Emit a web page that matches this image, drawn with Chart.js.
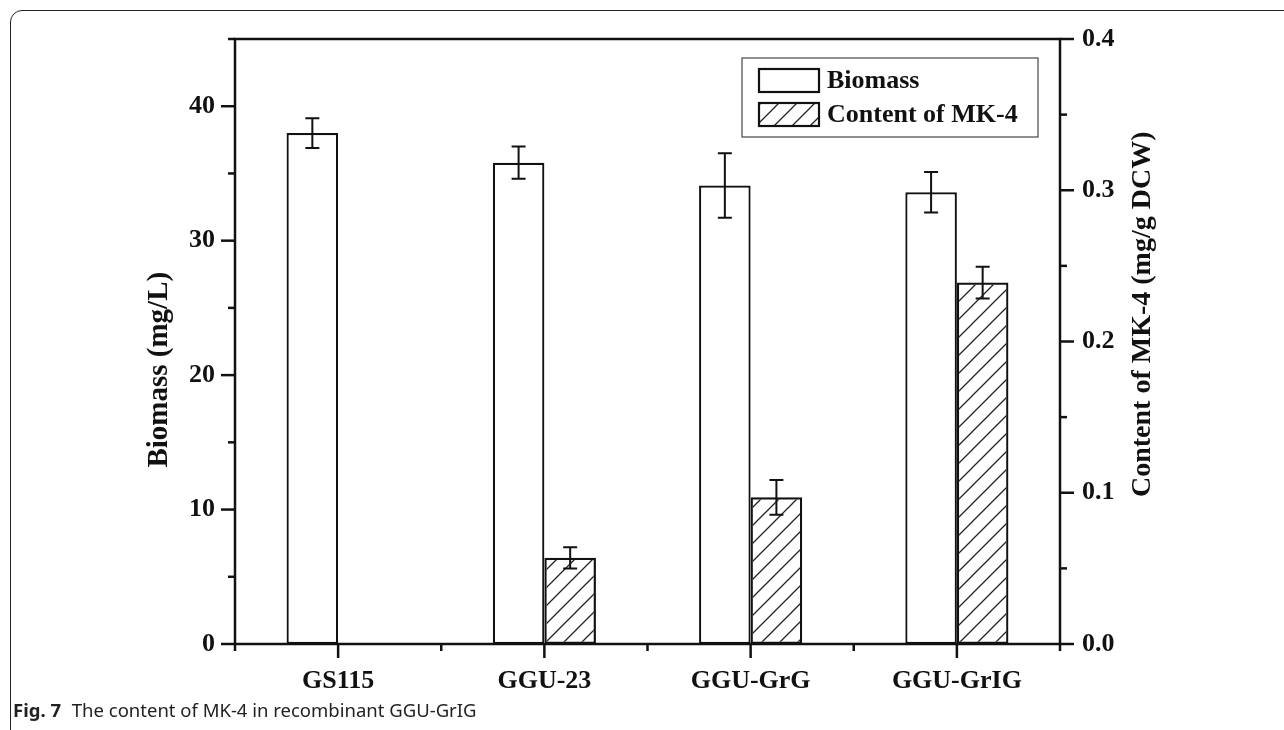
<!DOCTYPE html>
<html lang="en">
<head>
  <meta charset="UTF-8">
  <title>Fig. 7</title>
  <script src="https://cdn.jsdelivr.net/npm/chart.js"></script>
  <style>
    body { margin: 0; background: #fff; }
    .moldura {
      position: absolute; left: 10px; top: 10px; width: 1300px; height: 740px;
      border: 1.5px solid #222; border-radius: 12px;
    }
    .legenda_fig {
      position: absolute; left: 13px; top: 697px;
      font-family: "Noto Sans", sans-serif; font-size: 18.5px; color: #222;
    }
    .legenda_fig b { margin-right: 6px; }
    canvas { position: absolute; left: 0; top: 0; }
  </style>
</head>
<body>
  <div class="moldura"></div>
  <canvas id="grafico" width="1284" height="730"></canvas>
  <div class="legenda_fig"><b>Fig. 7</b> The content of MK-4 in recombinant GGU-GrIG</div>

  <script>
    var categorias = ['GS115', 'GGU-23', 'GGU-GrG', 'GGU-GrIG']
    var biomassa = [38.0, 35.8, 34.1, 33.6]
    var biomassaErro = [1.1, 1.2, 2.4, 1.5]
    var mk4 = [0, 0.057, 0.097, 0.239]
    var mk4Erro = [0, 0.007, 0.0115, 0.0105]

    var fonte = '"Liberation Serif", "Times New Roman", serif'

    // padrao de hachura "/"
    function hachura() {
      var c = document.createElement('canvas')
      c.width = 18
      c.height = 18
      var g = c.getContext('2d')
      g.strokeStyle = '#222'
      g.lineWidth = 1.3
      g.beginPath()
      g.moveTo(-2, 20); g.lineTo(20, -2)
      g.moveTo(-2, 2); g.lineTo(2, -2)
      g.moveTo(16, 20); g.lineTo(20, 16)
      g.stroke()
      return g.createPattern(c, 'repeat')
    }
    var padrao = hachura()

    var extras = {
      id: 'extras',
      afterDatasetsDraw: function (chart) {
        var ctx = chart.ctx
        var area = chart.chartArea
        ctx.save()
        ctx.strokeStyle = '#111'
        ctx.fillStyle = '#111'

        // barras de erro
        ctx.lineWidth = 2
        chart.data.datasets.forEach(function (ds, i) {
          var meta = chart.getDatasetMeta(i)
          var escala = chart.scales[ds.yAxisID]
          meta.data.forEach(function (barra, j) {
            var e = ds.erros[j]
            if (!e) return
            var y1 = escala.getPixelForValue(ds.data[j] + e)
            var y2 = escala.getPixelForValue(ds.data[j] - e)
            ctx.beginPath()
            ctx.moveTo(barra.x, y1); ctx.lineTo(barra.x, y2)
            ctx.moveTo(barra.x - 7, y1); ctx.lineTo(barra.x + 7, y1)
            ctx.moveTo(barra.x - 7, y2); ctx.lineTo(barra.x + 7, y2)
            ctx.stroke()
          })
        })

        // moldura do grafico
        ctx.lineWidth = 2.5
        ctx.strokeRect(area.left, area.top, area.right - area.left, area.bottom - area.top)

        // marcas dos eixos
        var esq = chart.scales.y
        esq.ticks.forEach(function (t) {
          var y = esq.getPixelForValue(t.value)
          var len = t.value % 10 === 0 ? 14 : 7
          ctx.beginPath(); ctx.moveTo(area.left - len, y); ctx.lineTo(area.left, y); ctx.stroke()
        })
        var dir = chart.scales.y1
        dir.ticks.forEach(function (t) {
          var y = dir.getPixelForValue(t.value)
          var len = Math.round(t.value * 100) % 10 === 0 ? 14 : 7
          ctx.beginPath(); ctx.moveTo(area.right, y); ctx.lineTo(area.right + len, y); ctx.stroke()
        })
        var xs = chart.scales.x
        for (var k = 0; k < categorias.length; k++) {
          var cx = xs.getPixelForValue(k)
          ctx.beginPath(); ctx.moveTo(cx, area.bottom); ctx.lineTo(cx, area.bottom + 14); ctx.stroke()
        }
        for (var k = 0; k <= categorias.length; k++) {
          var bx = xs.getPixelForValue(k - 0.5)
          ctx.beginPath(); ctx.moveTo(bx, area.bottom); ctx.lineTo(bx, area.bottom + 7); ctx.stroke()
        }

        // titulos dos eixos
        ctx.textAlign = 'center'
        ctx.textBaseline = 'middle'
        ctx.save()
        ctx.font = 'bold 29px ' + fonte
        ctx.translate(160, esq.getPixelForValue(20.4))
        ctx.rotate(-Math.PI / 2)
        ctx.fillText('Biomass (mg/L)', 0, 0)
        ctx.restore()
        ctx.save()
        ctx.font = 'bold 28px ' + fonte
        ctx.translate(1143, dir.getPixelForValue(0.218))
        ctx.rotate(-Math.PI / 2)
        ctx.fillText('Content of MK-4 (mg/g DCW)', 0, 0)
        ctx.restore()

        // legenda
        ctx.font = 'bold 26px ' + fonte
        ctx.lineWidth = 1.3
        ctx.strokeStyle = '#555'
        ctx.strokeRect(742, 58, 296, 79)
        ctx.strokeStyle = '#111'
        ctx.lineWidth = 2.2
        ctx.textAlign = 'left'
        chart.data.datasets.forEach(function (ds, i) {
          var y = 69 + i * 34
          ctx.fillStyle = ds.backgroundColor
          ctx.fillRect(759, y, 60, 23)
          ctx.strokeRect(759, y, 60, 23)
          ctx.fillStyle = '#111'
          ctx.fillText(ds.label, 827, y + 12)
        })
        ctx.restore()
      }
    }

    new Chart(document.getElementById('grafico'), {
      type: 'bar',
      data: {
        labels: categorias,
        datasets: [
          {
            label: 'Biomass',
            data: biomassa,
            erros: biomassaErro,
            yAxisID: 'y',
            backgroundColor: '#ffffff',
            borderColor: '#111',
            borderWidth: 2.2,
            borderSkipped: false
          },
          {
            label: 'Content of MK-4',
            data: mk4,
            erros: mk4Erro,
            yAxisID: 'y1',
            backgroundColor: padrao,
            borderColor: '#111',
            borderWidth: 2.2,
            borderSkipped: false
          }
        ]
      },
      options: {
        responsive: false,
        devicePixelRatio: 1,
        animation: false,
        categoryPercentage: 0.5,
        barPercentage: 1.0,
        layout: { padding: { top: 39, left: 0, right: 0, bottom: 0 } },
        plugins: { legend: { display: false }, tooltip: { enabled: false } },
        scales: {
          x: {
            grid: { display: false, drawTicks: false },
            border: { display: false },
            ticks: { color: '#111', font: { family: fonte, size: 26, weight: 'bold' }, padding: 22, maxRotation: 0 },
            afterFit: function (s) { s.height = 86 }
          },
          y: {
            position: 'left',
            min: 0, max: 45,
            grid: { display: false, drawTicks: false },
            border: { display: false },
            ticks: {
              stepSize: 5,
              color: '#111',
              padding: 20,
              font: { family: fonte, size: 26, weight: 'bold' },
              callback: function (v) { return v % 10 === 0 ? v : '' }
            },
            afterFit: function (s) { s.width = 235 }
          },
          y1: {
            position: 'right',
            min: 0, max: 0.4,
            grid: { display: false, drawTicks: false },
            border: { display: false },
            ticks: {
              stepSize: 0.05,
              color: '#111',
              padding: 22,
              font: { family: fonte, size: 26, weight: 'bold' },
              callback: function (v) { return Math.round(v * 100) % 10 === 0 ? v.toFixed(1) : '' }
            },
            afterFit: function (s) { s.width = 224 }
          }
        }
      },
      plugins: [extras]
    })
  </script>
</body>
</html>
